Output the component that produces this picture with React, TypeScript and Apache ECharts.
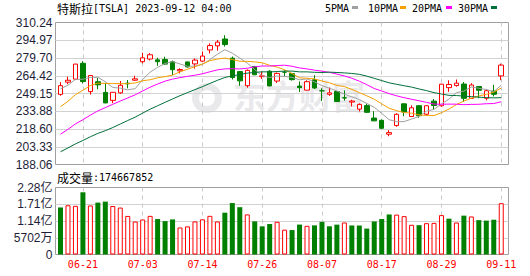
import React, { useEffect, useRef } from 'react';
import * as echarts from 'echarts';

const dates = ['06-15','06-16','06-20','06-21','06-22','06-23','06-26','06-27','06-28','06-29','06-30','07-03','07-05','07-06','07-07','07-10','07-11','07-12','07-13','07-14','07-17','07-18','07-19','07-20','07-21','07-24','07-25','07-26','07-27','07-28','07-31','08-01','08-02','08-03','08-04','08-07','08-08','08-09','08-10','08-11','08-14','08-15','08-16','08-17','08-18','08-21','08-22','08-23','08-24','08-25','08-28','08-29','08-30','08-31','09-01','09-05','09-06','09-07','09-08','09-11'];

const opens = [248.40,258.92,261.50,275.13,250.77,259.29,250.07,243.24,249.70,258.03,260.60,276.49,278.82,278.09,278.43,276.47,268.65,276.33,274.59,277.01,286.63,290.15,296.04,279.56,268.00,255.85,272.38,263.66,268.31,259.86,267.48,266.26,255.57,252.04,260.97,251.45,248.42,250.87,245.40,241.77,235.70,238.73,228.02,226.06,214.12,221.55,240.25,229.34,238.66,231.31,242.58,238.58,254.20,255.98,257.26,245.00,255.14,245.07,251.22,264.27];
const closes = [255.90,260.54,274.45,259.46,264.61,256.60,241.05,250.21,256.24,257.50,261.77,279.82,282.48,276.54,274.43,269.61,269.79,271.99,277.90,281.38,290.38,293.34,291.26,262.90,260.02,269.06,265.28,264.35,255.71,266.44,267.43,261.07,254.11,259.32,253.86,251.45,249.70,242.19,245.34,242.65,239.76,232.96,225.60,219.22,215.49,231.28,233.19,236.86,230.04,238.59,238.82,257.18,256.90,258.08,245.01,256.49,251.92,251.49,248.50,273.58];
const lows = [247.29,257.21,261.12,257.78,248.25,252.80,240.70,240.85,248.89,253.61,259.89,275.11,277.60,272.88,273.77,265.10,266.37,271.46,270.60,276.31,283.57,286.01,289.52,261.20,255.80,254.12,265.00,261.75,255.30,258.23,263.78,260.25,250.49,252.00,253.11,242.76,247.12,241.90,243.00,238.02,233.75,232.61,225.38,218.83,212.36,220.58,229.55,229.29,228.18,230.35,235.35,237.77,250.59,255.05,242.01,244.86,245.06,243.27,246.67,260.61];
const highs = [258.95,263.60,274.75,276.99,265.00,262.45,258.37,250.39,259.88,260.74,264.45,284.25,283.85,279.97,280.78,277.52,270.90,276.52,279.45,285.30,292.23,295.26,299.29,280.93,268.00,269.85,272.90,268.04,269.13,267.25,269.08,266.47,259.52,260.49,264.77,253.65,254.27,251.10,251.80,243.79,240.66,240.50,233.97,226.74,217.58,232.13,240.82,238.98,238.92,239.00,244.38,257.48,260.51,261.18,259.08,258.00,255.39,252.81,256.52,274.85];
const volumes = [160170000,167560000,165610000,211800000,166880000,176580000,179990000,164970000,159770000,131280000,112270000,119160000,131530000,120710000,113600000,119430000,91970000,95670000,112680000,119770000,131570000,112430000,142360000,175160000,161050000,136510000,112760000,95860000,103700000,111450000,84580000,83170000,101750000,97570000,99240000,111080000,96030000,101600000,109090000,98870000,98600000,88200000,112480000,120720000,136280000,135700000,130600000,101080000,99780000,106610000,107610000,134050000,121990000,108860000,132270000,129470000,116960000,115310000,118370000,174667852];
// closes of the 29 sessions before the first candle (for the moving averages)
const priorCloses = [161.20,170.06,171.79,169.15,168.54,172.08,167.98,166.35,166.52,173.86,176.89,180.14,188.87,185.77,182.90,184.47,193.17,201.16,203.93,207.52,213.97,217.61,221.31,224.57,234.86,244.40,249.83,258.71,256.79];

const priceTicks = ['188.06','203.33','218.60','233.88','249.15','264.42','279.70','294.97','310.24'];
const volumeTicks = ['0','5702万','1.14亿','1.71亿','2.28亿'];
const volumeMax = 228080000;

const maPeriods = [5, 10, 20, 30];
const maNames = ['5PMA', '10PMA', '20PMA', '30PMA'];
const maColors = ['#a0a0a0', '#f5a000', '#ff00ff', '#00703a'];

const UP = '#ff0000';
const DOWN = '#008000';
const MONO = '"DejaVu Sans Mono", "Liberation Mono", monospace';
const CJK = '"Noto Sans CJK SC", sans-serif';
const SANS = '"Liberation Sans", Arial, "Noto Sans CJK SC", sans-serif';

const allCloses = [...priorCloses, ...closes];
function movingAverage(n: number) {
  return closes.map((_, i) => {
    const end = priorCloses.length + i;
    let s = 0;
    for (let k = end - n + 1; k <= end; k++) s += allCloses[k];
    return +(s / n).toFixed(2);
  });
}

const prevClose0 = priorCloses[priorCloses.length - 1];
const volumeUp = closes.map((c, i) => c >= (i === 0 ? prevClose0 : closes[i - 1]));

const labelEvery = (i: number) => i % 8 === 3;

function buildOption() {
  const frameMain = { left: 55.5, top: 22.5, width: 453, height: 142 };
  const frameVol = { left: 55.5, top: 187.5, width: 453, height: 67 };
  const dataLeft = 56.77;
  const dataWidth = 448.2;
  const gridCommon = { outerBoundsMode: 'none', containLabel: false };
  const frameStyle = { show: true, borderColor: '#a0a0a0', borderWidth: 1, backgroundColor: 'transparent' };

  const legendTextX = [325, 368, 412, 458];
  const legendSwatchX = [352, 400, 446, 491];

  const graphic: any[] = [
    {
      type: 'text', x: 233, y: 95, z: 0, silent: true,
      style: { text: '东方财富', fontSize: 33, fontWeight: 'bold', fontFamily: CJK, fill: '#e9e9ec', verticalAlign: 'middle' },
    },
    {
      type: 'ring', z: 0, silent: true,
      shape: { cx: 207, cy: 98, r: 15, r0: 8 },
      style: { fill: '#e9e9ec' },
    },
    {
      type: 'text', x: 57, y: 8,
      style: {
        text: '{c|特斯拉}{m|[TSLA] 2023-09-12 04:00}',
        verticalAlign: 'middle',
        rich: {
          c: { fontFamily: CJK, fontSize: 12, fill: '#000' },
          m: { fontFamily: MONO, fontSize: 10, fill: '#000' },
        },
      },
    },
    {
      type: 'text', x: 57, y: 177,
      style: {
        text: '{c|成交量}{m|:' + volumes[volumes.length - 1] + '}',
        verticalAlign: 'middle',
        rich: {
          c: { fontFamily: CJK, fontSize: 12, fill: '#000' },
          m: { fontFamily: MONO, fontSize: 10, fill: '#000' },
        },
      },
    },
  ];
  maNames.forEach((name, k) => {
    graphic.push({
      type: 'text', x: legendTextX[k], y: 8,
      style: { text: name, fontFamily: MONO, fontSize: 10, fill: '#000', verticalAlign: 'middle' },
    });
    graphic.push({
      type: 'rect', shape: { x: legendSwatchX[k], y: 6, width: 6, height: 3 },
      style: { fill: maColors[k] },
    });
  });

  const dashed = {
    show: true,
    alignWithLabel: true,
    interval: labelEvery,
    lineStyle: { color: '#c8c8c8', type: [4, 4], width: 1 },
  };

  return {
    animation: false,
    backgroundColor: '#ffffff',
    grid: [
      { ...gridCommon, ...frameMain, ...frameStyle },
      { ...gridCommon, left: dataLeft, top: frameMain.top, width: dataWidth, height: frameMain.height },
      { ...gridCommon, ...frameVol, ...frameStyle },
      { ...gridCommon, left: dataLeft, top: frameVol.top, width: dataWidth, height: frameVol.height },
    ],
    xAxis: [
      { gridIndex: 0, type: 'value', min: 0, max: 1, show: false },
      {
        gridIndex: 1, type: 'category', data: dates, boundaryGap: true,
        axisLine: { show: false }, axisTick: { show: false }, axisLabel: { show: false },
        splitLine: dashed,
      },
      { gridIndex: 2, type: 'value', min: 0, max: 1, show: false },
      {
        gridIndex: 3, type: 'category', data: dates, boundaryGap: true,
        axisLine: { show: false }, axisTick: { show: false },
        axisLabel: { show: true, interval: labelEvery, color: '#ff0000', fontFamily: MONO, fontSize: 10, margin: 5 },
        splitLine: dashed,
      },
    ],
    yAxis: [
      {
        gridIndex: 0, type: 'value', min: 0, max: priceTicks.length - 1, interval: 1,
        axisLine: { show: false }, axisTick: { show: false },
        axisLabel: {
          show: true, showMinLabel: true, showMaxLabel: true, margin: 3,
          formatter: (v: number) => priceTicks[Math.round(v)],
          color: '#1e1e38', fontFamily: SANS, fontSize: 12,
        },
        splitLine: { show: true, showMinLine: false, showMaxLine: false, lineStyle: { color: '#d2d2d2', width: 1 } },
      },
      {
        gridIndex: 1, type: 'value', min: Number(priceTicks[0]), max: Number(priceTicks[priceTicks.length - 1]),
        show: false, splitLine: { show: false },
      },
      {
        gridIndex: 2, type: 'value', min: 0, max: volumeTicks.length - 1, interval: 1,
        axisLine: { show: false }, axisTick: { show: false },
        axisLabel: {
          show: true, showMinLabel: true, showMaxLabel: true, margin: 3,
          formatter: (v: number) => volumeTicks[Math.round(v)],
          color: '#1e1e38', fontFamily: SANS, fontSize: 12,
        },
        splitLine: { show: true, showMinLine: false, showMaxLine: false, lineStyle: { color: '#d2d2d2', width: 1 } },
      },
      { gridIndex: 3, type: 'value', min: 0, max: volumeMax, show: false, splitLine: { show: false } },
    ],
    graphic,
    series: [
      {
        type: 'candlestick', name: 'K', xAxisIndex: 1, yAxisIndex: 1, barWidth: 5,
        data: dates.map((_, i) => [opens[i], closes[i], lows[i], highs[i]]),
        itemStyle: {
          color: '#ffffff', color0: DOWN, borderColor: UP, borderColor0: DOWN,
          borderColorDoji: DOWN, borderWidth: 1,
        },
      },
      ...maPeriods.map((n, k) => ({
        type: 'line', name: maNames[k], xAxisIndex: 1, yAxisIndex: 1,
        data: movingAverage(n), showSymbol: false, symbol: 'none', smooth: false,
        lineStyle: { color: maColors[k], width: 1 },
        itemStyle: { color: maColors[k] },
      })),
      {
        type: 'bar', name: 'VOL', xAxisIndex: 3, yAxisIndex: 3, barWidth: 5,
        data: volumes.map((v, i) => ({
          value: v,
          itemStyle: volumeUp[i]
            ? { color: '#ffffff', borderColor: UP, borderWidth: 1 }
            : { color: DOWN, borderColor: DOWN, borderWidth: 0 },
        })),
      },
    ],
  };
}

export default function App() {
  const ref = useRef<HTMLDivElement>(null);
  useEffect(() => {
    if (!ref.current) return;
    const chart = echarts.init(ref.current, null, { renderer: 'svg' });
    chart.setOption(buildOption() as any);
    return () => chart.dispose();
  }, []);
  return (
    <div
      ref={ref}
      style={{ position: 'absolute', left: 0, top: 0, width: 530, height: 276, background: '#fff' }}
    />
  );
}
